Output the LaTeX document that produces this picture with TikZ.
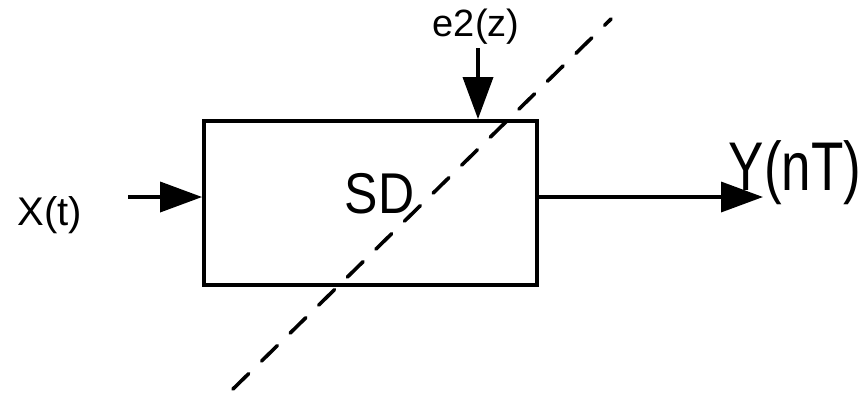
\documentclass[tikz,border=0pt]{standalone}
\usepackage{fontspec}
\setmainfont{Liberation Sans}
\usetikzlibrary{arrows.meta}
\begin{document}
\begin{tikzpicture}[x=1pt,y=-1pt, line width=3.6pt,
  arr/.style={-{Triangle[length=42pt,width=30pt]}},
  dashline/.style={line cap=round, dash pattern=on 22pt off 18pt},
  lbl/.style={inner sep=0pt, anchor=base west}]
\useasboundingbox (0,0) rectangle (862,392);
\node[draw, line width=3.8pt, minimum width=333pt, minimum height=164pt, inner sep=0pt] (sd) at (370.5,203) {};
\coordinate (xin) at (128,197);
\draw[arr] (xin) -- (sd.west |- xin);
\coordinate (yout) at (763,197);
\draw[arr] (sd.east |- yout) -- (yout);
\coordinate (ein) at (478,48);
\draw[arr] (ein) -- (ein |- sd.north);
\coordinate (d1) at (233,389);
\coordinate (d2) at (611,19);
\draw[dashline] (d1) -- (d2);
\node[lbl] (xl) at (16,225) {\fontsize{40}{48}\selectfont X(t)};
\node[lbl] (sdl) at (343,213) {\scalebox{1}[1.15]{\fontsize{50}{60}\selectfont SD}};
\node[lbl] (yl) at (727,190) {\scalebox{1}[1.3]{\fontsize{53}{64}\selectfont Y(nT)}};
\node[lbl] (el) at (431,36) {\fontsize{38}{46}\selectfont e2(z)};
\end{tikzpicture}
\end{document}
